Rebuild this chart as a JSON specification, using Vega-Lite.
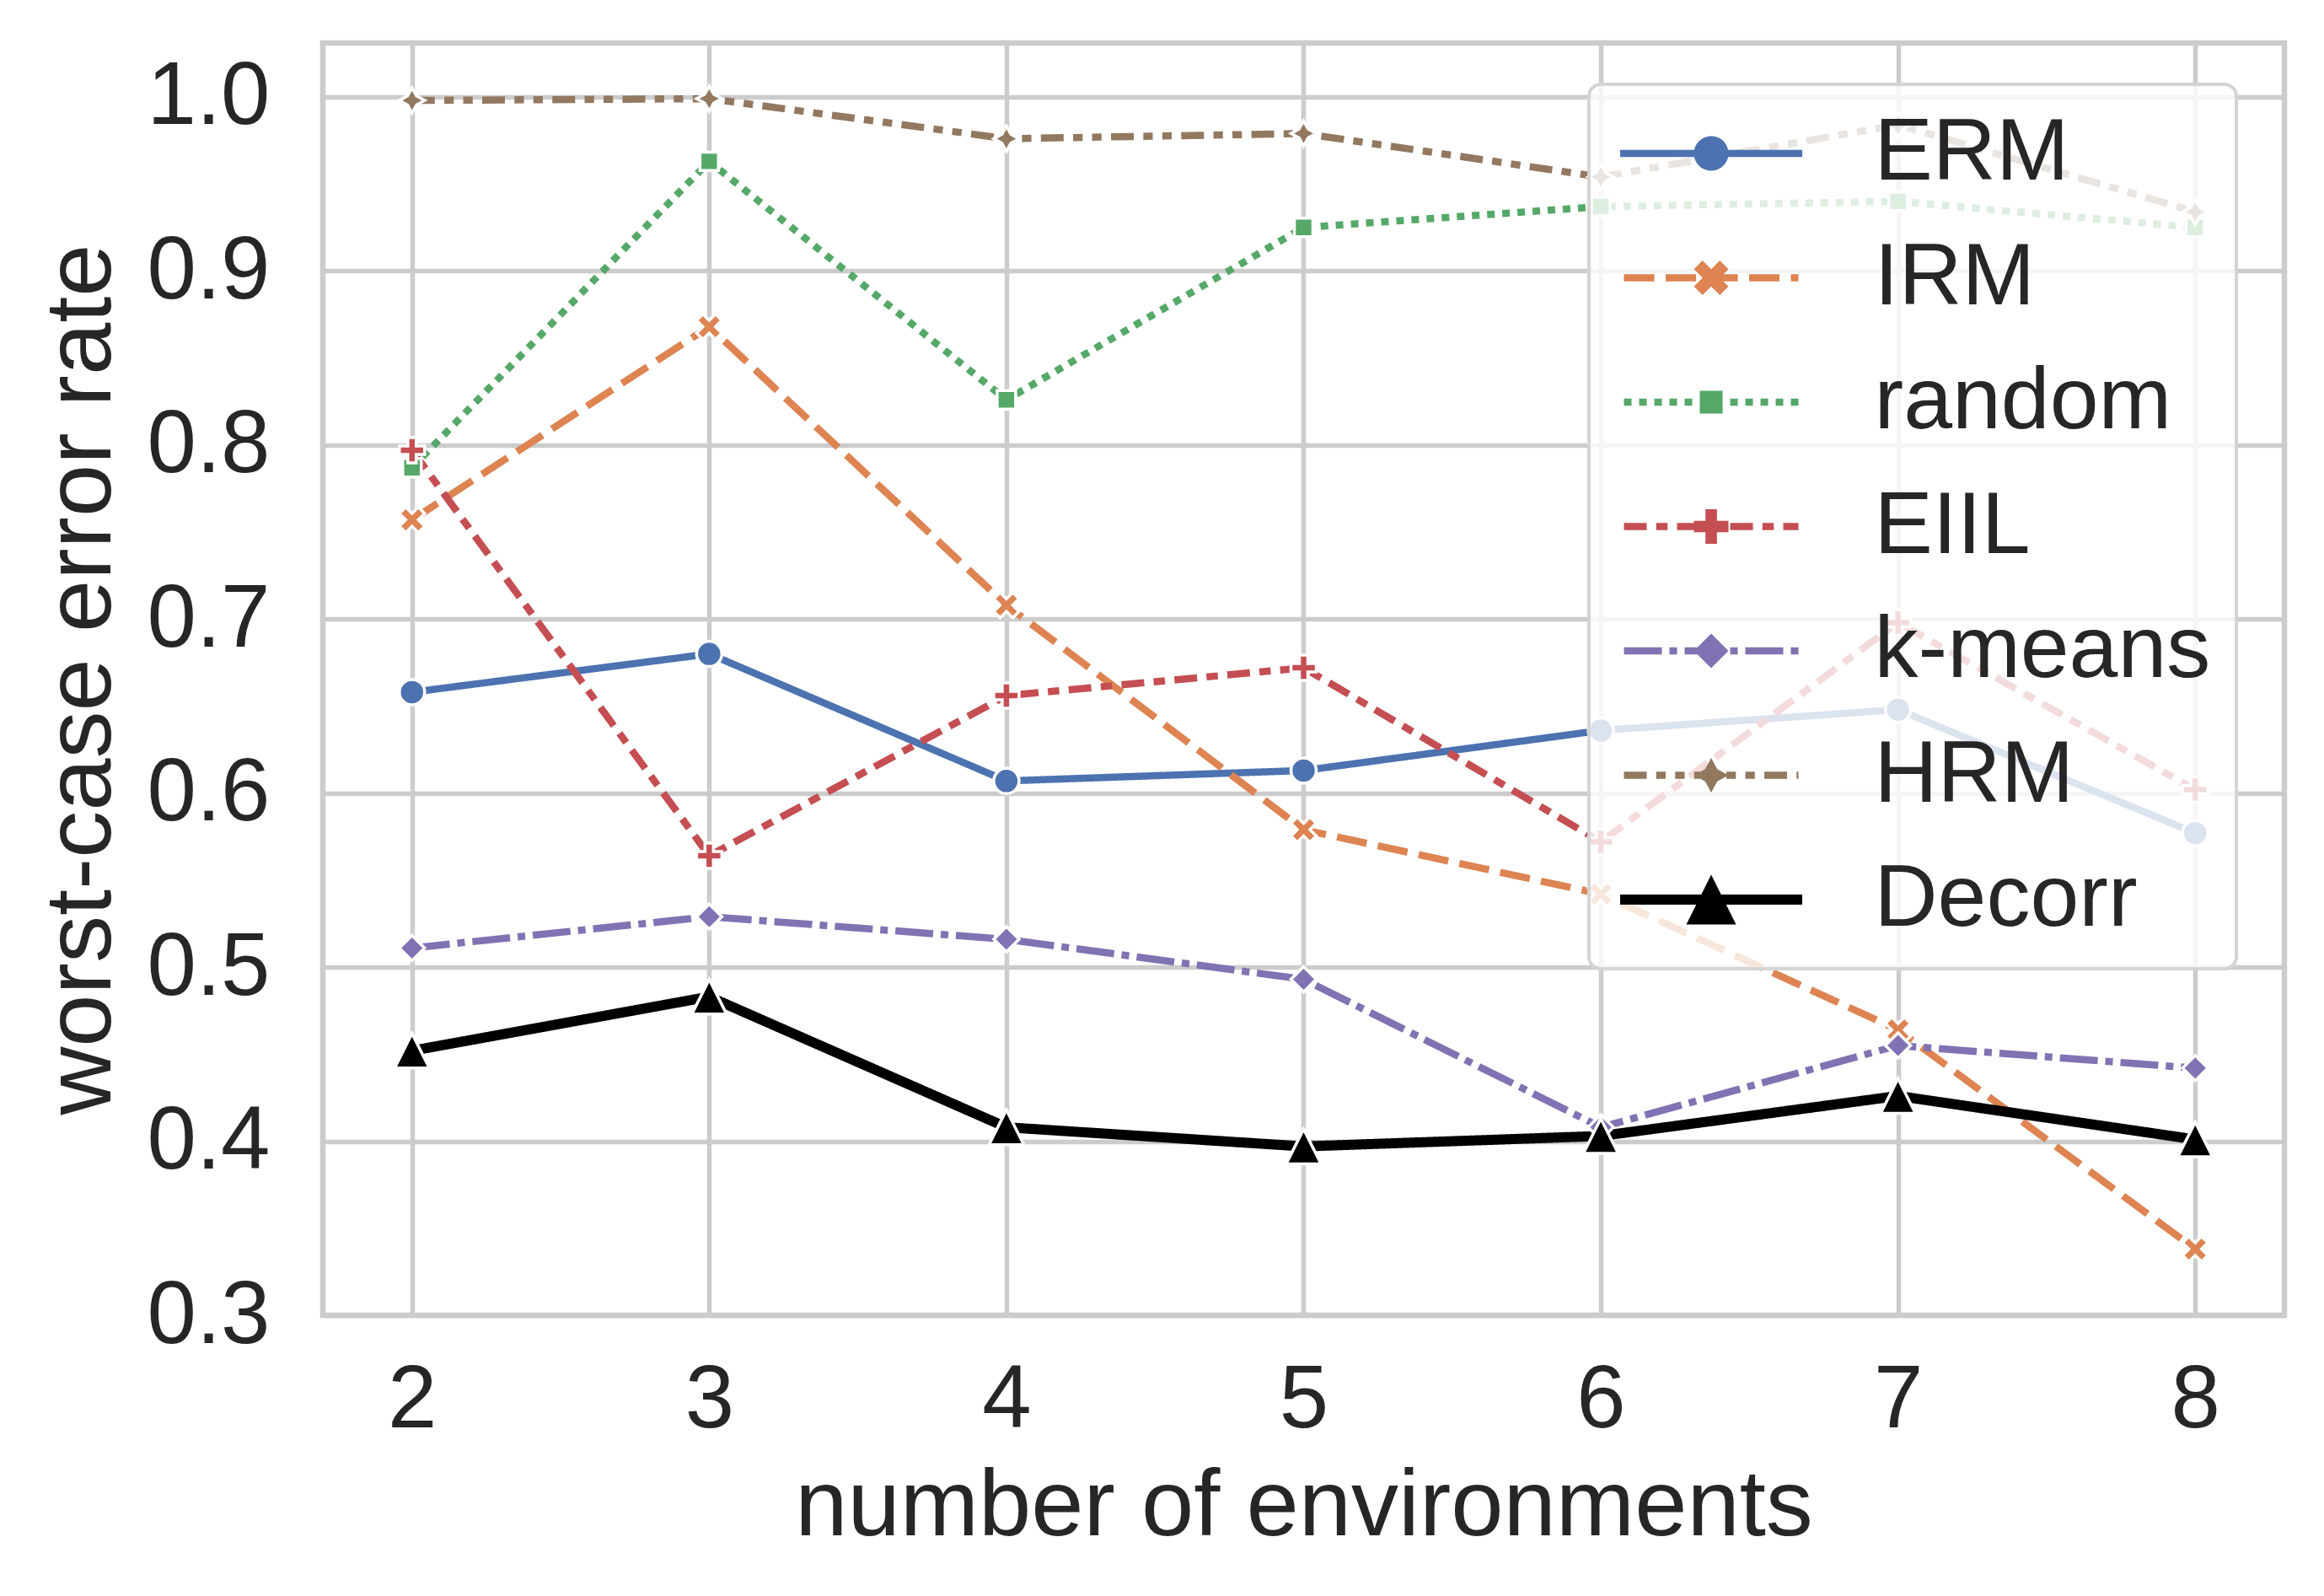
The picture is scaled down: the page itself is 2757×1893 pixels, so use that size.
{
  "$schema": "https://vega.github.io/schema/vega-lite/v6.json",
  "width": 2327,
  "height": 1509,
  "autosize": {"type": "none"},
  "padding": {"left": 383, "top": 51, "right": 47, "bottom": 333},
  "background": "white",
  "data": {"values": [
    {"n": 2, "method": "ERM", "v": 0.658}, {"n": 3, "method": "ERM", "v": 0.680}, {"n": 4, "method": "ERM", "v": 0.607}, {"n": 5, "method": "ERM", "v": 0.613}, {"n": 6, "method": "ERM", "v": 0.636}, {"n": 7, "method": "ERM", "v": 0.648}, {"n": 8, "method": "ERM", "v": 0.577},
    {"n": 2, "method": "IRM", "v": 0.757}, {"n": 3, "method": "IRM", "v": 0.868}, {"n": 4, "method": "IRM", "v": 0.708}, {"n": 5, "method": "IRM", "v": 0.579}, {"n": 6, "method": "IRM", "v": 0.542}, {"n": 7, "method": "IRM", "v": 0.464}, {"n": 8, "method": "IRM", "v": 0.338},
    {"n": 2, "method": "random", "v": 0.787}, {"n": 3, "method": "random", "v": 0.963}, {"n": 4, "method": "random", "v": 0.826}, {"n": 5, "method": "random", "v": 0.925}, {"n": 6, "method": "random", "v": 0.937}, {"n": 7, "method": "random", "v": 0.940}, {"n": 8, "method": "random", "v": 0.925},
    {"n": 2, "method": "EIIL", "v": 0.797}, {"n": 3, "method": "EIIL", "v": 0.564}, {"n": 4, "method": "EIIL", "v": 0.656}, {"n": 5, "method": "EIIL", "v": 0.672}, {"n": 6, "method": "EIIL", "v": 0.572}, {"n": 7, "method": "EIIL", "v": 0.698}, {"n": 8, "method": "EIIL", "v": 0.602},
    {"n": 2, "method": "k-means", "v": 0.511}, {"n": 3, "method": "k-means", "v": 0.529}, {"n": 4, "method": "k-means", "v": 0.516}, {"n": 5, "method": "k-means", "v": 0.493}, {"n": 6, "method": "k-means", "v": 0.408}, {"n": 7, "method": "k-means", "v": 0.455}, {"n": 8, "method": "k-means", "v": 0.442},
    {"n": 2, "method": "HRM", "v": 0.998}, {"n": 3, "method": "HRM", "v": 0.999}, {"n": 4, "method": "HRM", "v": 0.976}, {"n": 5, "method": "HRM", "v": 0.979}, {"n": 6, "method": "HRM", "v": 0.954}, {"n": 7, "method": "HRM", "v": 0.984}, {"n": 8, "method": "HRM", "v": 0.934},
    {"n": 2, "method": "Decorr", "v": 0.452}, {"n": 3, "method": "Decorr", "v": 0.483}, {"n": 4, "method": "Decorr", "v": 0.408}, {"n": 5, "method": "Decorr", "v": 0.397}, {"n": 6, "method": "Decorr", "v": 0.403}, {"n": 7, "method": "Decorr", "v": 0.426}, {"n": 8, "method": "Decorr", "v": 0.401}
  ]},
  "encoding": {
    "x": {"field": "n", "type": "quantitative",
      "scale": {"domain": [1.7, 8.3], "nice": false, "zero": false},
      "axis": {"values": [2, 3, 4, 5, 6, 7, 8], "format": "d", "title": "number of environments", "titleBaseline": "alphabetic", "titleY": 260, "labelPadding": 49}},
    "y": {"field": "v", "type": "quantitative",
      "scale": {"domain": [0.3, 1.031], "nice": false, "zero": false},
      "axis": {"values": [0.3, 0.4, 0.5, 0.6, 0.7, 0.8, 0.9, 1.0], "format": ".1f", "title": "worst-case error rate", "titleX": -253, "titleY": 754.5, "titleBaseline": "alphabetic", "titleAlign": "center", "titleAngle": 270, "labelPadding": 63}}
  },
  "layer": [
    {
      "mark": {"type": "line", "strokeCap": "butt", "strokeJoin": "round"},
      "encoding": {
        "color": {"field": "method", "type": "nominal",
          "scale": {"domain": ["ERM", "IRM", "random", "EIIL", "k-means", "HRM", "Decorr"], "range": ["#4C72B0", "#DD8452", "#55A868", "#C44E52", "#8172B3", "#937860", "#000000"]},
          "legend": null},
        "strokeDash": {"field": "method", "type": "nominal",
          "scale": {"domain": ["ERM", "IRM", "random", "EIIL", "k-means", "HRM", "Decorr"], "range": [[1, 0], [36, 13.5], [9, 9], [27, 11.25, 13.5, 11.25], [45, 9, 9, 9], [27, 11.25, 11.25, 11.25, 11.25, 11.25], [1, 0]]},
          "legend": null},
        "strokeWidth": {"condition": {"test": "datum.method === 'Decorr'", "value": 12}, "value": 8.5}
      }
    },
    {
      "mark": {"type": "point", "filled": true, "stroke": "white", "strokeWidth": 3.5, "opacity": 1},
      "encoding": {
        "color": {"field": "method", "type": "nominal",
          "scale": {"domain": ["ERM", "IRM", "random", "EIIL", "k-means", "HRM", "Decorr"], "range": ["#4C72B0", "#DD8452", "#55A868", "#C44E52", "#8172B3", "#937860", "#000000"]},
          "legend": null},
        "shape": {"field": "method", "type": "nominal",
          "scale": {"domain": ["ERM", "IRM", "random", "EIIL", "k-means", "HRM", "Decorr"], "range": [
            "circle",
            "M-0.5,-1L0,-0.5L0.5,-1L1,-0.5L0.5,0L1,0.5L0.5,1L0,0.5L-0.5,1L-1,0.5L-0.5,0L-1,-0.5Z",
            "square",
            "M-0.333,-1H0.333V-0.333H1V0.333H0.333V1H-0.333V0.333H-1V-0.333H-0.333Z",
            "diamond",
            "M0,-1L0.354,-0.354L1,0L0.354,0.354L0,1L-0.354,0.354L-1,0L-0.354,-0.354Z",
            "M0,-1L1,1L-1,1Z"]},
          "legend": null},
        "size": {"condition": [{"test": "datum.method === 'Decorr'", "value": 1700}, {"test": "datum.method === 'random'", "value": 480}], "value": 900}
      }
    },
    {
      "mark": {"type": "point", "filled": true, "opacity": 0},
      "encoding": {
        "color": {"field": "method", "type": "nominal",
          "scale": {"domain": ["ERM", "IRM", "random", "EIIL", "k-means", "HRM", "Decorr"], "range": ["#4C72B0", "#DD8452", "#55A868", "#C44E52", "#8172B3", "#937860", "#000000"]},
          "legend": {"title": null, "orient": "none", "legendX": 1502, "legendY": 49, "encode": {"symbols": {"update": {"opacity": {"value": 1}}}}}},
        "shape": {"field": "method", "type": "nominal",
          "scale": {"domain": ["ERM", "IRM", "random", "EIIL", "k-means", "HRM", "Decorr"], "range": [
            "M-0.865,-0.082H3.289V0.082H-0.865ZM1.606,0A0.394,0.394,0,1,1,0.818,0A0.394,0.394,0,1,1,1.606,0Z",
            "M-0.778,-0.082H-0.086V0.082H-0.778ZM0.174,-0.082H0.866V0.082H0.174ZM1.125,-0.082H1.818V0.082H1.125ZM2.077,-0.082H2.77V0.082H2.077ZM3.029,-0.082H3.202V0.082H3.029ZM1.015,-0.394L1.212,-0.197L1.409,-0.394L1.606,-0.197L1.409,0L1.606,0.197L1.409,0.394L1.212,0.197L1.015,0.394L0.818,0.197L1.015,0L0.818,-0.197Z",
            "M-0.778,-0.082H-0.605V0.082H-0.778ZM-0.432,-0.082H-0.259V0.082H-0.432ZM-0.086,-0.082H0.087V0.082H-0.086ZM0.26,-0.082H0.433V0.082H0.26ZM0.606,-0.082H0.779V0.082H0.606ZM0.952,-0.082H1.125V0.082H0.952ZM1.299,-0.082H1.472V0.082H1.299ZM1.645,-0.082H1.818V0.082H1.645ZM1.991,-0.082H2.164V0.082H1.991ZM2.337,-0.082H2.51V0.082H2.337ZM2.683,-0.082H2.856V0.082H2.683ZM3.029,-0.082H3.202V0.082H3.029ZM0.952,-0.26H1.472V0.26H0.952Z",
            "M-0.778,-0.082H-0.259V0.082H-0.778ZM-0.043,-0.082H0.217V0.082H-0.043ZM0.433,-0.082H0.952V0.082H0.433ZM1.169,-0.082H1.428V0.082H1.169ZM1.645,-0.082H2.164V0.082H1.645ZM2.38,-0.082H2.64V0.082H2.38ZM2.856,-0.082H3.202V0.082H2.856ZM1.081,-0.394H1.343V-0.131H1.606V0.131H1.343V0.394H1.081V0.131H0.818V-0.131H1.081Z",
            "M-0.778,-0.082H0.087V0.082H-0.778ZM0.26,-0.082H0.433V0.082H0.26ZM0.606,-0.082H1.472V0.082H0.606ZM1.645,-0.082H1.818V0.082H1.645ZM1.991,-0.082H2.856V0.082H1.991ZM3.029,-0.082H3.202V0.082H3.029ZM1.212,-0.394L1.606,0L1.212,0.394L0.818,0Z",
            "M-0.778,-0.082H-0.259V0.082H-0.778ZM-0.043,-0.082H0.174V0.082H-0.043ZM0.39,-0.082H0.606V0.082H0.39ZM0.823,-0.082H1.342V0.082H0.823ZM1.558,-0.082H1.775V0.082H1.558ZM1.991,-0.082H2.207V0.082H1.991ZM2.424,-0.082H2.943V0.082H2.424ZM3.159,-0.082H3.202V0.082H3.159ZM1.212,-0.394L1.351,-0.139L1.606,0L1.351,0.139L1.212,0.394L1.073,0.139L0.818,0L1.073,-0.139Z",
            "M-0.865,-0.113H3.289V0.113H-0.865ZM1.212,-0.567L1.779,0.567L0.645,0.567Z"]},
          "legend": {"title": null, "orient": "none", "legendX": 1502, "legendY": 49, "encode": {"symbols": {"update": {"opacity": {"value": 1}}}}}}
      }
    }
  ],
  "resolve": {"scale": {"color": "independent", "shape": "independent"}},
  "config": {
    "view": {"stroke": "#cccccc", "strokeWidth": 6.5},
    "font": "Liberation Sans",
    "axis": {"domain": false, "ticks": false, "tickSize": 0, "grid": true, "gridColor": "#cccccc", "gridWidth": 5.5,
      "labelFont": "Liberation Sans", "labelFontSize": 105, "labelColor": "#262626", "labelFlush": false, "labelOverlap": false,
      "titleFont": "Liberation Sans", "titleFontSize": 112, "titleColor": "#262626", "titleFontWeight": "normal"},
    "legend": {"labelFont": "Liberation Sans", "labelFontSize": 104, "labelColor": "#262626", "labelOffset": 204.5, "labelLimit": 1000,
      "symbolSize": 10816, "symbolOffset": 0, "symbolStrokeWidth": 0, "symbolOpacity": 1, "rowPadding": 43.5, "padding": 30,
      "cornerRadius": 14, "strokeColor": "#d4d4d4", "strokeWidth": 4, "fillColor": "rgba(255,255,255,0.8)"}
  }
}
